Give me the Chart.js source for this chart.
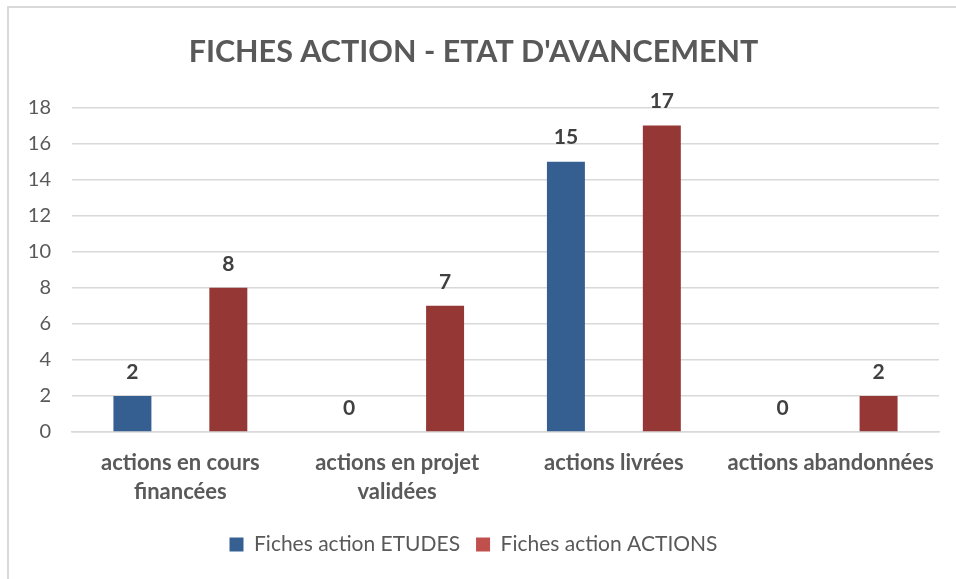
<!DOCTYPE html>
<html>
<head>
<meta charset="utf-8">
<script src="https://cdn.jsdelivr.net/npm/chart.js@4"></script>
<style>
  html, body { margin: 0; padding: 0; background: #fff; }
  #wrap { position: relative; width: 956px; height: 579px; overflow: hidden; }
  #frame { position: absolute; left: 7px; top: 6px; width: 1000px; height: 700px; border: 2px solid #d9d9d9; box-sizing: border-box; }
  #c { position: absolute; left: 0; top: 0; }
</style>
</head>
<body>
<div id="wrap">
  <div id="frame"></div>
  <canvas id="c" width="956" height="579"></canvas>
</div>
<script>
const categories = [
    ['actions en cours', 'financées'],
    ['actions en projet', 'validées'],
    'actions livrées',
    'actions abandonnées'
];
const etudes = [2, 0, 15, 0];
const actions = [8, 7, 17, 2];
const yTicks = [0, 2, 4, 6, 8, 10, 12, 14, 16, 18];

const FONT = 'Lato, "Open Sans", sans-serif';

// simple value labels above bars
const valueLabels = {
    id: 'valueLabels',
    afterDatasetsDraw(chart) {
        const ctx = chart.ctx;
        ctx.save();
        ctx.font = 'bold 21px ' + FONT;
        ctx.fillStyle = '#404040';
        ctx.textAlign = 'center';
        ctx.textBaseline = 'middle';
        chart.data.datasets.forEach((ds, i) => {
            chart.getDatasetMeta(i).data.forEach((bar, j) => {
                ctx.fillText(ds.data[j], bar.x, bar.y - 24);
            });
        });
        ctx.restore();
    }
};

new Chart(document.getElementById('c').getContext('2d'), {
    type: 'bar',
    data: {
        labels: categories,
        datasets: [{
            label: 'Fiches action ETUDES',
            data: etudes,
            backgroundColor: '#365f91',
            categoryPercentage: 0.885,
            barPercentage: 0.396
        }, {
            label: 'Fiches action ACTIONS',
            data: actions,
            backgroundColor: '#953735',
            categoryPercentage: 0.885,
            barPercentage: 0.396
        }]
    },
    options: {
        responsive: false,
        animation: false,
        layout: { padding: { left: 8, right: 17, top: 0, bottom: 14 } },
        plugins: {
            title: {
                display: true,
                text: "FICHES ACTION - ETAT D'AVANCEMENT",
                color: '#595959',
                font: { family: FONT, size: 30.5, weight: 'bold', lineHeight: 1.2 },
                padding: { top: 34, bottom: 37 }
            },
            legend: {
                position: 'bottom',
                labels: {
                    color: '#595959',
                    font: { family: FONT, size: 21 },
                    boxWidth: 14,
                    boxHeight: 14,
                    padding: 16,
                    generateLabels(chart) {
                        const cols = ['#376092', '#c0504d'];
                        return chart.data.datasets.map((ds, i) => ({
                            text: ds.label,
                            fillStyle: cols[i],
                            strokeStyle: cols[i],
                            lineWidth: 0,
                            fontColor: '#595959',
                            datasetIndex: i
                        }));
                    }
                }
            },
            tooltip: { enabled: false }
        },
        scales: {
            y: {
                min: 0,
                max: 18,
                afterBuildTicks(axis) { axis.ticks = yTicks.map(v => ({ value: v })); },
                afterFit(axis) { axis.width = 64; },
                ticks: {
                    color: '#595959',
                    font: { family: FONT, size: 20 },
                    padding: 21
                },
                border: { display: false },
                grid: { color: '#d9d9d9', lineWidth: 1.5, drawTicks: false }
            },
            x: {
                ticks: {
                    color: '#595959',
                    font: { family: FONT, size: 22, weight: 'bold', lineHeight: 1.3 },
                    padding: 9,
                    maxRotation: 0,
                    autoSkip: false
                },
                afterFit(axis) { axis.height = 86; },
                border: { color: '#d9d9d9', width: 1.5 },
                grid: { display: false }
            }
        }
    },
    plugins: [valueLabels]
});
</script>
</body>
</html>
